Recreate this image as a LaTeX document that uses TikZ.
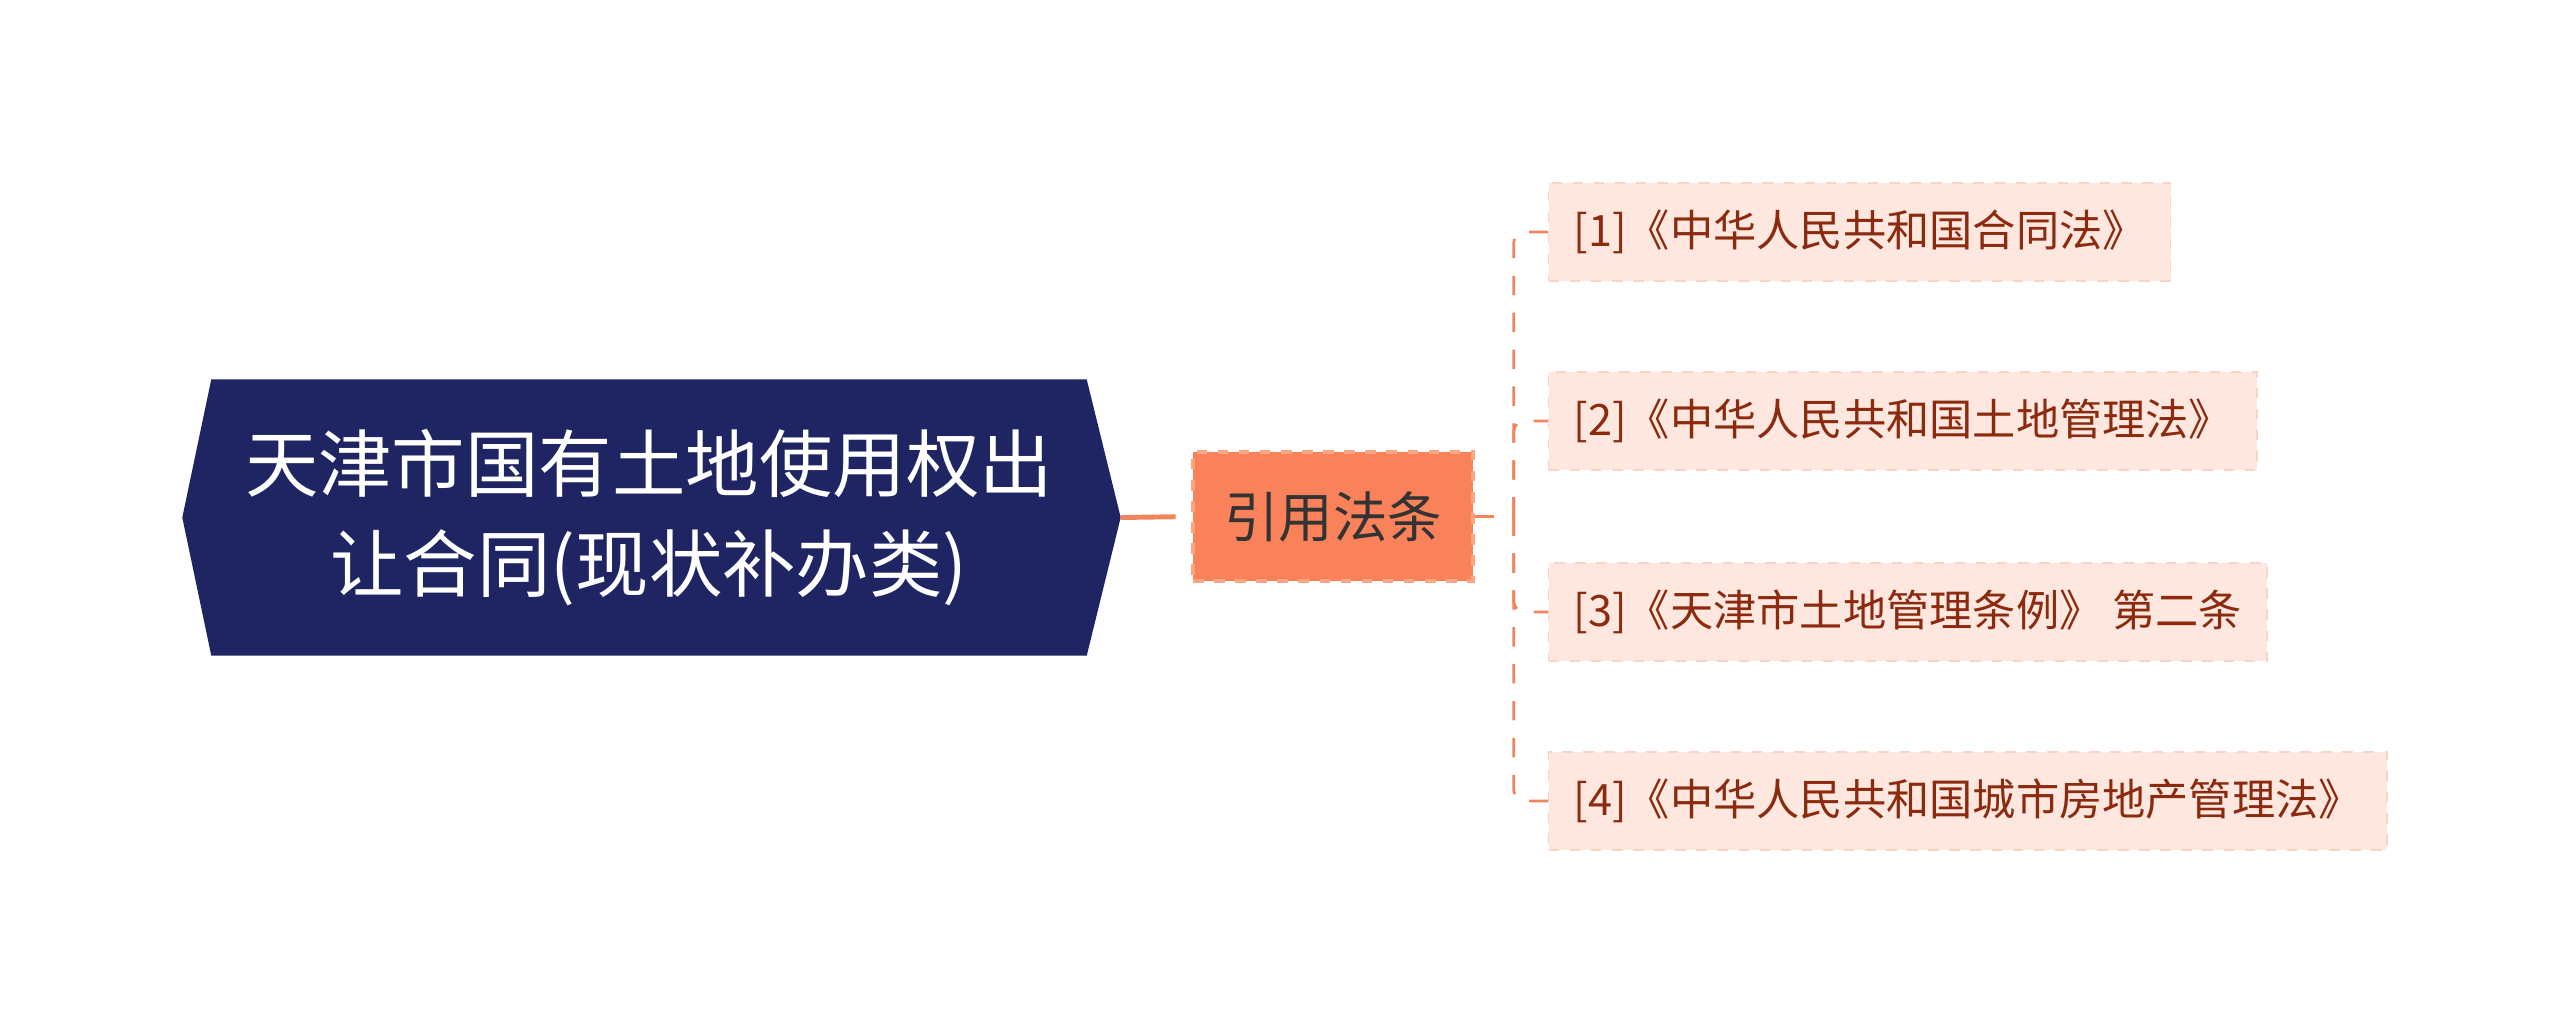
\documentclass[tikz,border=0pt]{standalone}
\usepackage{fontspec}
\newfontfamily\cjk{Noto Sans CJK SC}
\usetikzlibrary{positioning,backgrounds}
\definecolor{rootblue}{HTML}{1F2563}
\definecolor{lawfill}{HTML}{F9825A}
\definecolor{lawedge}{HTML}{FBA583}
\definecolor{refill}{HTML}{FDE7DE}
\definecolor{refedge}{HTML}{F9D3C3}
\definecolor{reftext}{HTML}{8B2A0F}
\definecolor{linkcol}{HTML}{F0845C}
\tikzset{
root/.style={minimum width=8.74cm, minimum height=2.75cm, align=center,
    text=white, inner sep=0pt, font=\cjk\fontsize{20.9}{28.7}\selectfont},
law/.style={fill=lawfill, draw=lawedge, dashed, line width=1pt,
    minimum width=2.8cm, minimum height=1.29cm, text=black!80,
    font=\cjk\fontsize{15.5}{18}\selectfont},
ref/.style={fill=refill, draw=refedge, dashed, minimum height=0.98cm,
    inner xsep=0.25cm, anchor=west, text=reftext,
    font=\cjk\fontsize{12.3}{15}\selectfont},
branch/.style={draw=linkcol, line width=0.8pt, dash pattern=on 5.5pt off 5pt,
    rounded corners=3pt},
rootlink/.style={draw=linkcol, line width=1.4pt, dash pattern=on 0.55cm off 0.16cm}
}

\begin{document}
\begin{tikzpicture}
	\useasboundingbox (0,0) rectangle (25.6,-10.35);
	\node[root] (root) at (6.49,-5.175) {天津市国有土地使用权出\\让合同(现状补办类)};
	\begin{scope}[on background layer]
		\fill[rootblue] (root.north west) -- (root.north east) -- ([xshift=0.34cm]root.east)
		-- (root.south east) -- (root.south west) -- ([xshift=-0.29cm]root.west) -- cycle;
	\end{scope}
	\coordinate (roottip) at ([xshift=0.34cm]root.east);
	\node[law] (law) at (13.33,-5.165) {引用法条};
	% references
	\node[ref] (ref1) at (15.48,-2.32) {[1]《中华人民共和国合同法》};
	\node[ref] (ref2) at (15.48,-4.21) {[2]《中华人民共和国土地管理法》};
	\node[ref] (ref3) at (15.48,-6.12) {[3]《天津市土地管理条例》 第二条};
	\node[ref] (ref4) at (15.48,-8.01) {[4]《中华人民共和国城市房地产管理法》};
	\coordinate (bus) at ([xshift=0.39cm]law.east);
	\draw[rootlink] (roottip) -- (law.west);
	\draw[branch] (law.east) -- (bus);
	\foreach \i in {1,...,4}
		\draw[branch] (bus) |- (ref\i.west);
\end{tikzpicture}
\end{document}
